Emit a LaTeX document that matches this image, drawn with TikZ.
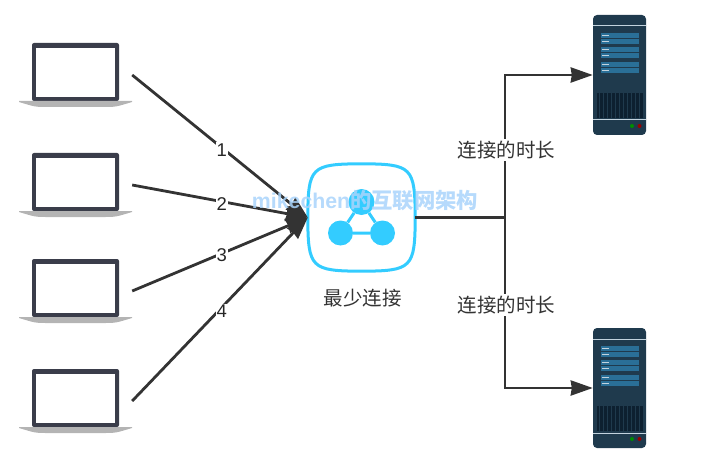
\documentclass[tikz,border=0pt]{standalone}
\usepackage{fontspec}
\setmainfont{Liberation Sans}
\newfontfamily\cjk{Noto Sans CJK SC}
\usetikzlibrary{arrows.meta, positioning, calc}
\definecolor{linegray}{HTML}{333333}
\definecolor{hubblue}{HTML}{33CCFF}
\definecolor{laptopdark}{HTML}{3A3D4A}
\definecolor{laptopbase}{HTML}{B4B4B4}
\definecolor{serverdark}{HTML}{1F3A4D}
\definecolor{serverbar}{HTML}{2A6F97}
\definecolor{serverlight}{HTML}{C3D3DE}
\definecolor{grilldark}{HTML}{0D2030}
\definecolor{markblue}{HTML}{A9D4FB}
\tikzset{
  conn/.style={line width=2.8pt, draw=linegray},
  tipconn/.style={conn, -{Stealth[length=22pt, width=15pt, inset=1pt]}},
  holder/.style={inner sep=0pt, minimum width=113pt, minimum height=64pt},
  rackholder/.style={inner sep=0pt, minimum width=53pt, minimum height=120pt},
  numlabel/.style={fill=white, inner sep=1pt, yshift=-2pt, font=\fontsize{18.5}{18.5}\selectfont, text=black!85},
  timelabel/.style={fill=white, inner sep=2pt, font=\cjk\fontsize{19.5}{19.5}\selectfont, text=linegray},
  pics/laptop/.style={code={
    \fill[laptopdark, rounded corners=2pt] (-43.5,-32) rectangle (43.5,26);
    \fill[white] (-39.5,-27) rectangle (39.5,22);
    \fill[laptopbase] (-56.5,26) -- (56.5,26) -- (56.5,27) .. controls (40,32) .. (30,32)
      -- (-30,32) .. controls (-40,32) .. (-56.5,27) -- cycle;
  }},
  pics/rack/.style={code={
    \fill[serverdark, rounded corners=4pt] (-26.5,-60) rectangle (26.5,60);
    \fill[serverlight] (-26.5,-49.5) rectangle (26.5,-48.5);
    \fill[serverlight] (-26.5,44.5) rectangle (26.5,45.5);
    % Drive bays
    \foreach \y in {-42,-36,-28,-22,-13,-7} {
      \fill[serverbar] (-19,\y) rectangle (19,\y+5);
      \fill[serverlight] (-18,\y+2) rectangle (-11,\y+3);
    }
    % Vent
    \fill[grilldark] (-23,18) rectangle (23,43);
    \foreach \x in {-20,-16,...,20}
      \draw[serverdark, line width=0.7pt] (\x,18) -- (\x,43);
    \fill[green!55!black] (12.5,51) circle[radius=2pt];
    \fill[red!60!black] (20,51) circle[radius=2pt];
  }},
}
\begin{document}
\begin{tikzpicture}[x=1pt, y=-1pt, >=Stealth]
  \useasboundingbox (0,0) rectangle (716,460);
  % Clients
  \node[holder] (laptopa) at (75.5,75) {};
  \node[holder] (laptopb) at (75.5,185) {};
  \node[holder] (laptopc) at (75.5,291) {};
  \node[holder] (laptopd) at (75.5,401) {};
  \foreach \n in {laptopa,laptopb,laptopc,laptopd}
    \pic at (\n) {laptop};

  % Servers
  \node[rackholder] (servera) at (619.5,75) {};
  \node[rackholder] (serverb) at (619.5,388) {};
  \pic at (servera) {rack};
  \pic at (serverb) {rack};

  % Balancer
  \node[inner sep=0pt, minimum size=107pt] (hub) at (361.5,217.5) {};
  \draw[hubblue, line width=3pt] (hub.north)
    .. controls (412,164) and (415,167) .. (hub.east)
    .. controls (415,268) and (412,271) .. (hub.south)
    .. controls (311,271) and (308,268) .. (hub.west)
    .. controls (308,167) and (311,164) .. cycle;
  \node[circle, fill=hubblue, inner sep=0pt, minimum size=26pt] (top) at (361.5,202) {};
  \node[circle, fill=hubblue, inner sep=0pt, minimum size=25pt] (left) at (340.5,233) {};
  \node[circle, fill=hubblue, inner sep=0pt, minimum size=25pt] (right) at (382.5,233) {};
  \draw[hubblue, line width=3pt] (top) -- (left) -- (right) -- (top);
  \node[font=\cjk\fontsize{19.5}{19.5}\selectfont, text=linegray] (hubname) at (362.5,298) {最少连接};

  % Incoming
  \draw[tipconn] (laptopa.east) -- (hub.west) node[numlabel, pos=0.51] (numa) {1};
  \draw[tipconn] (laptopb.east) -- (hub.west) node[numlabel, pos=0.51] (numb) {2};
  \draw[tipconn] (laptopc.east) -- (hub.west) node[numlabel, pos=0.51] (numc) {3};
  \draw[tipconn] (laptopd.east) -- (hub.west) node[numlabel, pos=0.51, yshift=-2pt] (numd) {4};

  % Outgoing
  \coordinate (fork) at (505,217.5);
  \draw[conn] (hub.east) -- (fork);
  \draw[tipconn] (fork) |- (servera.west);
  \draw[tipconn] (fork) |- (serverb.west);
  \node[timelabel] (timea) at (506.5,150) {连接的时长};
  \node[timelabel] (timeb) at (506.5,305) {连接的时长};

  % Watermark
  \node[font=\bfseries\fontsize{21.3}{21.3}\selectfont, text=markblue, opacity=0.85] (mark) at (365,201)
    {mikechen{\cjk 的互联网架构}};
\end{tikzpicture}
\end{document}
